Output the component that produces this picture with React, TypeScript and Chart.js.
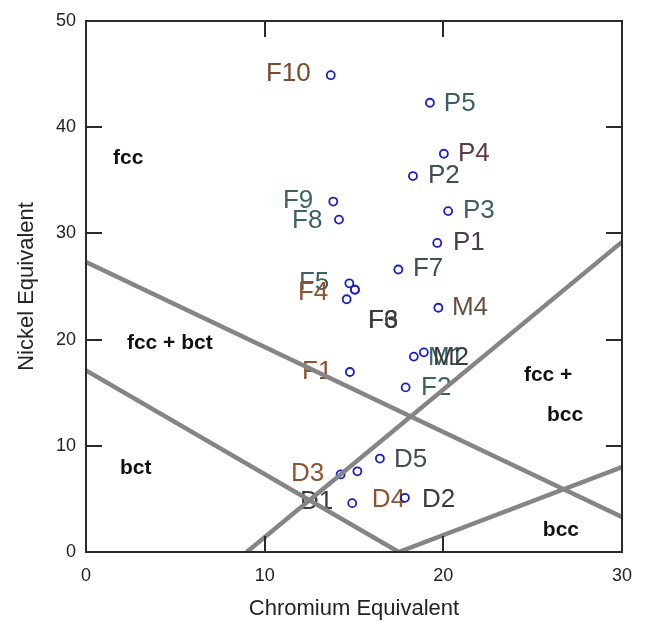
import React, { useEffect, useRef } from 'react';
import { Chart, registerables } from 'chart.js';

Chart.register(...registerables);

// Sample points (Chromium equivalent, Nickel equivalent)
const pointNames = ['F10', 'P5', 'P4', 'P2', 'F9', 'F8', 'P3', 'P1', 'F7', 'F5', 'F6', 'F3', 'F4', 'M4', 'M1', 'M2', 'F1', 'F2', 'D5', 'D3', 'D4', 'D1', 'D2'];
const chromiumEq = [13.7, 19.25, 20.03, 18.3, 13.84, 14.16, 20.27, 19.66, 17.48, 14.74, 15.05, 15.05, 14.59, 19.72, 18.35, 18.91, 14.77, 17.89, 16.45, 14.25, 15.19, 14.9, 17.85];
const nickelEq = [44.9, 42.3, 37.5, 35.4, 33.0, 31.3, 32.1, 29.1, 26.6, 25.3, 24.7, 24.7, 23.8, 23.0, 18.4, 18.8, 16.95, 15.5, 8.8, 7.3, 7.6, 4.6, 5.1];

// Point label anchors (data units, left edge / vertical middle of the text)
const labelTexts = ['F10', 'P5', 'P4', 'P2', 'F9', 'F8', 'P3', 'P1', 'F7', 'F5', 'F4', 'F6', 'F3', 'M4', 'M1', 'M2', 'F1', 'F2', 'D5', 'D3', 'D1', 'D4', 'D2'];
const labelCr = [10.07, 20.03, 20.82, 19.14, 11.02, 11.53, 21.1, 20.54, 18.3, 11.92, 11.86, 15.78, 15.78, 20.48, 19.14, 19.42, 12.09, 18.75, 17.24, 11.47, 11.98, 16.0, 18.8];
const labelNi = [45.0, 42.2, 37.5, 35.43, 33.08, 31.2, 32.14, 29.14, 26.7, 25.38, 24.44, 21.8, 21.8, 23.03, 18.33, 18.33, 16.92, 15.5, 8.65, 7.33, 4.7, 4.89, 4.89];
const labelColors = ['#7a4a2a', '#3d5e62', '#5a3a45', '#3d4f55', '#3d6266', '#3d6266', '#3d5e62', '#4a3a50', '#3d4f55', '#3d6266', '#8a5530', '#4a3a30', '#3a3a3a', '#6a5040', '#3d6266', '#3a3a3a', '#8a5530', '#3d6266', '#3d4f55', '#8a5530', '#3a3a3a', '#8a5530', '#3a3a3a'];

// Phase boundary lines
const line1Cr = [0, 30];
const line1Ni = [27.3, 3.3];
const line2Cr = [0, 17.5];
const line2Ni = [17.1, 0];
const line3Cr = [17.5, 30];
const line3Ni = [0, 8];
const line4Cr = [9.0, 30];
const line4Ni = [0, 29.2];

// Region labels
const regionTexts = ['fcc', 'fcc + bct', 'bct', 'fcc +', 'bcc', 'bcc'];
const regionCr = [1.51, 2.29, 1.9, 24.51, 25.8, 25.57];
const regionNi = [37.12, 19.64, 7.89, 16.64, 12.88, 2.07];

const xTicks = [0, 10, 20, 30];
const yTicks = [0, 10, 20, 30, 40, 50];

const FONT = '"Liberation Sans", Arial, Helvetica, sans-serif';

const toPts = (xs: number[], ys: number[]) => xs.map((v, i) => ({ x: v, y: ys[i] }));

const annotPlugin = {
  id: 'annot',
  beforeDatasetsDraw(chart: any) {
    const { ctx, scales } = chart;
    const x = scales.x;
    const y = scales.y;
    ctx.save();
    ctx.textBaseline = 'middle';
    ctx.textAlign = 'left';
    ctx.font = `bold 21px ${FONT}`;
    ctx.fillStyle = '#111111';
    regionTexts.forEach((t, i) => {
      ctx.fillText(t, x.getPixelForValue(regionCr[i]), y.getPixelForValue(regionNi[i]));
    });
    ctx.font = `26px ${FONT}`;
    labelTexts.forEach((t, i) => {
      ctx.fillStyle = labelColors[i];
      ctx.fillText(t, x.getPixelForValue(labelCr[i]), y.getPixelForValue(labelNi[i]));
    });
    ctx.restore();
  },
  afterDraw(chart: any) {
    const { ctx, chartArea, scales } = chart;
    const x = scales.x;
    const y = scales.y;
    const { left, right, top, bottom } = chartArea;
    const len = 16;
    ctx.save();
    ctx.strokeStyle = '#2a2a2a';
    ctx.lineWidth = 2;
    ctx.strokeRect(left, top, right - left, bottom - top);
    ctx.beginPath();
    yTicks.slice(1, -1).forEach((v) => {
      const py = Math.round(y.getPixelForValue(v));
      ctx.moveTo(left, py);
      ctx.lineTo(left + len, py);
      ctx.moveTo(right, py);
      ctx.lineTo(right - len, py);
    });
    xTicks.slice(1, -1).forEach((v) => {
      const px = Math.round(x.getPixelForValue(v));
      ctx.moveTo(px, top);
      ctx.lineTo(px, top + len);
      ctx.moveTo(px, bottom);
      ctx.lineTo(px, bottom - len);
    });
    ctx.stroke();
    ctx.restore();
  },
};

export default function App() {
  const ref = useRef<HTMLCanvasElement | null>(null);

  useEffect(() => {
    if (!ref.current) return;
    const lineStyle = {
      showLine: true,
      borderColor: '#858585',
      borderWidth: 4.5,
      pointRadius: 0,
      pointHoverRadius: 0,
      fill: false,
    };
    const chart = new Chart(ref.current, {
      type: 'scatter',
      data: {
        datasets: [
          { label: 'b1', data: toPts(line1Cr, line1Ni), ...lineStyle },
          { label: 'b2', data: toPts(line2Cr, line2Ni), ...lineStyle },
          { label: 'b3', data: toPts(line3Cr, line3Ni), ...lineStyle },
          { label: 'b4', data: toPts(line4Cr, line4Ni), ...lineStyle },
          {
            label: 'samples',
            data: toPts(chromiumEq, nickelEq),
            showLine: false,
            pointStyle: 'circle',
            pointRadius: 4,
            pointBorderWidth: 1.8,
            pointBorderColor: '#1c1cc8',
            pointBackgroundColor: 'rgba(0,0,0,0)',
          } as any,
        ],
      },
      options: {
        responsive: false,
        animation: false,
        layout: { padding: { top: 21, right: 23, left: 0, bottom: 0 } },
        plugins: { legend: { display: false }, tooltip: { enabled: false } },
        scales: {
          x: {
            type: 'linear',
            min: 0,
            max: 30,
            afterFit: (s: any) => { s.height = 69; },
            afterBuildTicks: (s: any) => { s.ticks = xTicks.map((v) => ({ value: v })); },
            grid: { display: false, drawTicks: false },
            border: { display: false },
            ticks: { padding: 13, color: '#222222', font: { family: FONT, size: 18 }, maxRotation: 0 },
            title: {
              display: true,
              text: 'Chromium Equivalent',
              color: '#222222',
              font: { family: FONT, size: 22, lineHeight: 1 },
              padding: { top: 0, bottom: 1 },
            },
          },
          y: {
            type: 'linear',
            min: 0,
            max: 50,
            afterFit: (s: any) => { s.width = 86; },
            afterBuildTicks: (s: any) => { s.ticks = yTicks.map((v) => ({ value: v })); },
            grid: { display: false, drawTicks: false },
            border: { display: false },
            ticks: { padding: 10, color: '#222222', font: { family: FONT, size: 18 } },
            title: {
              display: true,
              text: 'Nickel Equivalent',
              color: '#222222',
              font: { family: FONT, size: 22, lineHeight: 1 },
              padding: { top: 16, bottom: 0 },
            },
          },
        },
      },
      plugins: [annotPlugin],
    } as any);
    return () => chart.destroy();
  }, []);

  return (
    <div style={{ position: 'fixed', left: 0, top: 0, width: 645, height: 621, background: '#ffffff' }}>
      <canvas ref={ref} width={645} height={621} style={{ display: 'block' }} />
    </div>
  );
}
